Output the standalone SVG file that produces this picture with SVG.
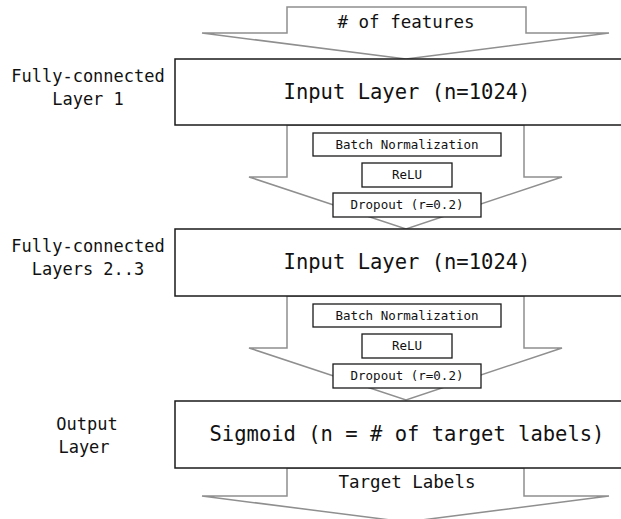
<svg xmlns="http://www.w3.org/2000/svg" width="621" height="519" viewBox="0 0 621 519">
<style>
.arrow{fill:#fff;stroke:#8f8f8f;stroke-width:1.5}
.box{fill:#fff;stroke:#1a1a1a;stroke-width:1.5}
.sbox{fill:#fff;stroke:#1a1a1a;stroke-width:1.3}
text{font-family:"DejaVu Sans Mono","Liberation Mono",monospace;fill:#111;text-anchor:middle}
.big{font-size:20.5px}
.mid{font-size:17.5px}
.lab{font-size:17px}
.sm{font-size:12.5px}
</style>
<rect width="621" height="519" fill="#fff"/>
<g id="connectors">
<polygon class="arrow" points="287,7 526,7 526,33 609,33 406,59 202,33 287,33"/>
<text class="mid" x="406" y="28"># of features</text>
<polygon class="arrow" points="287,125 524,125 524,177 562,177 406,229 249,177 287,177"/>
<polygon class="arrow" points="287,296 524,296 524,348 562,348 406,400 249,348 287,348"/>
<polygon class="arrow" points="287,468 524,468 524,496 609,496 406,522 202,496 287,496"/>
<text class="mid" x="407" y="488">Target Labels</text>
</g>
<g id="label1">
<text class="lab" x="88" y="82">Fully-connected</text>
<text class="lab" x="88" y="105">Layer 1</text>
</g>
<g id="box1">
<rect class="box" x="175" y="59" width="470" height="66"/>
<text class="big" x="407" y="99">Input Layer (n=1024)</text>
</g>
<g id="bn1">
<rect class="sbox" x="313" y="133" width="188" height="23"/>
<text class="sm" x="407" y="149">Batch Normalization</text>
</g>
<g id="relu1">
<rect class="sbox" x="362" y="163" width="90" height="24"/>
<text class="sm" x="407" y="179">ReLU</text>
</g>
<g id="drop1">
<rect class="sbox" x="333" y="193" width="148" height="24"/>
<text class="sm" x="407" y="209">Dropout (r=0.2)</text>
</g>
<g id="label2">
<text class="lab" x="88" y="252">Fully-connected</text>
<text class="lab" x="88" y="275">Layers 2..3</text>
</g>
<g id="box2">
<rect class="box" x="175" y="229" width="470" height="67"/>
<text class="big" x="407" y="269">Input Layer (n=1024)</text>
</g>
<g id="bn2">
<rect class="sbox" x="313" y="304" width="188" height="23"/>
<text class="sm" x="407" y="320">Batch Normalization</text>
</g>
<g id="relu2">
<rect class="sbox" x="362" y="334" width="90" height="24"/>
<text class="sm" x="407" y="350">ReLU</text>
</g>
<g id="drop2">
<rect class="sbox" x="333" y="364" width="148" height="24"/>
<text class="sm" x="407" y="380">Dropout (r=0.2)</text>
</g>
<g id="label3">
<text class="lab" x="87" y="430">Output</text>
<text class="lab" x="84" y="453">Layer</text>
</g>
<g id="box3">
<rect class="box" x="175" y="401" width="470" height="67"/>
<text class="big" x="407" y="441">Sigmoid (n = # of target labels)</text>
</g>
</svg>
